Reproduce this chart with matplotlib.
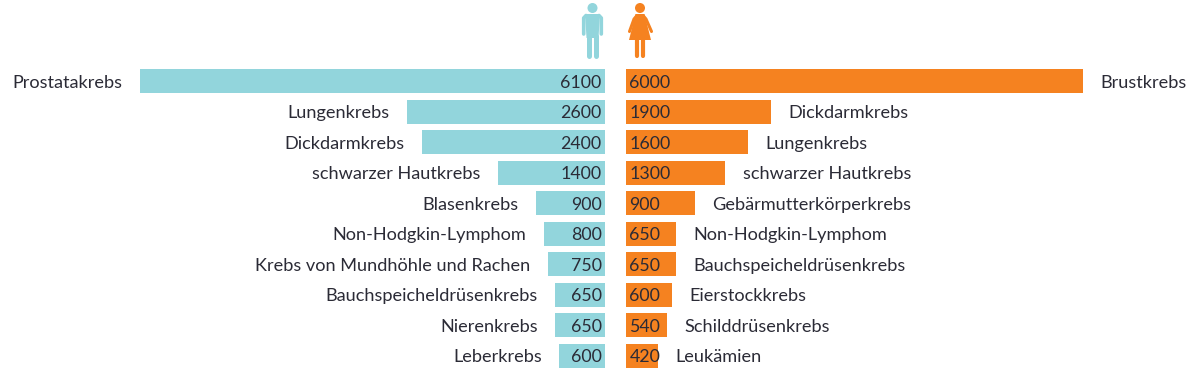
import matplotlib
matplotlib.use("Agg")
import matplotlib.pyplot as plt
from matplotlib.patches import Circle, Polygon

plt.rcParams['font.family'] = ['Lato', 'DejaVu Sans']

# Werte
maenner_labels = ["Prostatakrebs", "Lungenkrebs", "Dickdarmkrebs", "schwarzer Hautkrebs", "Blasenkrebs",
                  "Non-Hodgkin-Lymphom", "Krebs von Mundhöhle und Rachen", "Bauchspeicheldrüsenkrebs",
                  "Nierenkrebs", "Leberkrebs"]
maenner = [6100, 2600, 2400, 1400, 900, 800, 750, 650, 650, 600]
frauen_labels = ["Brustkrebs", "Dickdarmkrebs", "Lungenkrebs", "schwarzer Hautkrebs", "Gebärmutterkörperkrebs",
                 "Non-Hodgkin-Lymphom", "Bauchspeicheldrüsenkrebs", "Eierstockkrebs", "Schilddrüsenkrebs", "Leukämien"]
frauen = [6000, 1900, 1600, 1300, 900, 650, 650, 600, 540, 420]

BLAU = '#92d5dc'
ORANGE = '#f58220'
TEXT = '#2b2b36'
W, H = 1200, 390
PX = 0.0762     # px pro Fall
STEP = 30.55    # Zeilenabstand px
Y0 = 81
FS = 13.1
FS_WERT = 12.8

fig = plt.figure(figsize=(12, 3.9), dpi=100)
links = fig.add_axes([0, 0, 605 / W, 1])
rechts = fig.add_axes([626 / W, 0, (W - 626) / W, 1])
links.set_xlim(605 / PX, 0)
rechts.set_xlim(0, (W - 626) / PX)
for ax in (links, rechts):
    ax.set_ylim((H - Y0) / STEP, -Y0 / STEP)
    ax.axis('off')

links.barh(range(len(maenner)), maenner, height=24 / STEP, color=BLAU)
rechts.barh(range(len(frauen)), frauen, height=24 / STEP, color=ORANGE)

for i, (v, name) in enumerate(zip(maenner, maenner_labels)):
    links.annotate(str(v), (0, i), xytext=(-2.5, 0), textcoords='offset points', ha='right', va='center_baseline',
                   fontsize=FS_WERT, color=TEXT)
    links.annotate(name, (v, i), xytext=(-12.6, 0), textcoords='offset points', ha='right', va='center_baseline',
                   fontsize=FS, color=TEXT, annotation_clip=False)
for i, (v, name) in enumerate(zip(frauen, frauen_labels)):
    rechts.annotate(str(v), (0, i), xytext=(2.5, 0), textcoords='offset points', ha='left', va='center_baseline',
                    fontsize=FS_WERT, color=TEXT)
    rechts.annotate(name, (v, i), xytext=(12.6, 0), textcoords='offset points', ha='left', va='center_baseline',
                    fontsize=FS, color=TEXT, annotation_clip=False)

# Piktogramme in Pixelkoordinaten
icon = fig.add_axes([0, 0, 1, 1])
icon.set_xlim(0, W)
icon.set_ylim(H, 0)
icon.axis('off')
icon.patch.set_alpha(0)

# Mann
icon.add_patch(Circle((592.5, 8), 5, color=BLAU, lw=0))
icon.add_patch(Polygon([(585, 14), (600, 14), (598.5, 38), (586.5, 38)], color=BLAU, lw=0))
icon.plot([583.7, 583.7, 586], [34, 18, 15.5], color=BLAU, lw=2.6, solid_capstyle='round', solid_joinstyle='round')
icon.plot([601.3, 601.3, 599], [34, 18, 15.5], color=BLAU, lw=2.6, solid_capstyle='round', solid_joinstyle='round')
icon.plot([589, 589], [36, 55.5], color=BLAU, lw=3.6, solid_capstyle='round')
icon.plot([596, 596], [36, 55.5], color=BLAU, lw=3.6, solid_capstyle='round')

# Frau
icon.add_patch(Circle((640, 8), 5, color=ORANGE, lw=0))
icon.add_patch(Polygon([(635.5, 14), (644.5, 14), (651, 40), (629, 40)], color=ORANGE, lw=0))
icon.plot([637, 634, 629.5], [15.5, 19, 31.5], color=ORANGE, lw=2.2, solid_capstyle='round')
icon.plot([643, 646, 651.5], [15.5, 19, 31.5], color=ORANGE, lw=2.2, solid_capstyle='round')
icon.plot([637, 637], [39, 55.5], color=ORANGE, lw=3, solid_capstyle='round')
icon.plot([643, 643], [39, 55.5], color=ORANGE, lw=3, solid_capstyle='round')

fig.savefig('out.png', dpi=100, facecolor='white')
